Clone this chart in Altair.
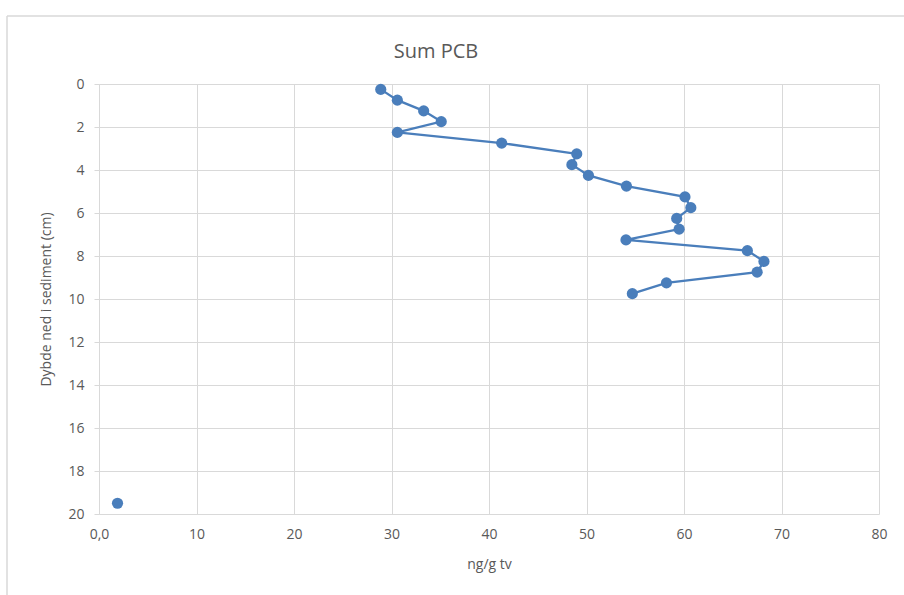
import altair as alt
import pandas as pd

depth = [0.25, 0.75, 1.25, 1.75, 2.25, 2.75, 3.25, 3.75, 4.25, 4.75, 5.25, 5.75,
         6.25, 6.75, 7.25, 7.75, 8.25, 8.75, 9.25, 9.75, 19.5]
pcb = [28.9, 30.6, 33.3, 35.1, 30.6, 41.3, 49.0, 48.5, 50.2, 54.1, 60.1, 60.7,
       59.25, 59.5, 54.05, 66.5, 68.2, 67.5, 58.2, 54.7, 1.9]
segment = ["a"] * 20 + ["b"]
title_text = ["Sum PCB"]

df = pd.DataFrame({"depth": depth, "pcb": pcb, "seg": segment, "order": list(range(len(depth)))})
tdf = pd.DataFrame({"t": title_text})

FONT = "Open Sans"
GREY = "#595959"
BLUE = "#4a7ebb"

x = alt.X("pcb:Q", scale=alt.Scale(domain=[0, 80], nice=False, zero=True),
          axis=alt.Axis(title="ng/g tv", values=list(range(0, 81, 10)),
                        labelExpr="datum.value == 0 ? '0,0' : datum.label",
                        grid=True, gridColor="#d9d9d9", ticks=False, domain=False,
                        labelFlush=False, labelPadding=13, titlePadding=16))
y = alt.Y("depth:Q", scale=alt.Scale(domain=[0, 20], reverse=True, nice=False),
          axis=alt.Axis(title="Dybde ned i sediment (cm)", values=list(range(0, 21, 2)),
                        grid=True, gridColor="#d9d9d9", ticks=True, tickSize=5,
                        tickColor="#d9d9d9", domain=True, domainColor="#d9d9d9",
                        labelFlush=False, labelPadding=10, titlePadding=14))

line = alt.Chart(df[df.seg == "a"]).mark_line(color=BLUE, strokeWidth=2.3).encode(
    x=x, y=y, order="order:Q")
pts = alt.Chart(df).mark_circle(color=BLUE, size=125, opacity=1).encode(x=x, y=y)

border_top = alt.Chart(tdf).mark_rule(color="#d9d9d9", strokeWidth=1.5).encode(
    x=alt.value(-92), x2=alt.value(900), y=alt.value(-68))
border_left = alt.Chart(tdf).mark_rule(color="#d9d9d9", strokeWidth=1.5).encode(
    x=alt.value(-92), y=alt.value(-68), y2=alt.value(600))

title = alt.Chart(tdf).mark_text(font=FONT, fontSize=20, color=GREY, align="center",
                                 baseline="middle").encode(
    text="t:N", x=alt.value(337), y=alt.value(-32))

chart = alt.layer(border_top, border_left, line, pts, title).properties(
    width=780, height=430,
    autosize=alt.AutoSizeParams(type="none"),
    padding={"left": 99, "top": 84, "right": 25, "bottom": 81},
).configure_axis(
    labelFont=FONT, titleFont=FONT, labelColor=GREY, titleColor=GREY,
    labelFontSize=14, titleFontSize=14, titleFontWeight="normal",
).configure_view(stroke=None)

chart.save("out.html", embed_options={"renderer": "svg", "actions": False})
